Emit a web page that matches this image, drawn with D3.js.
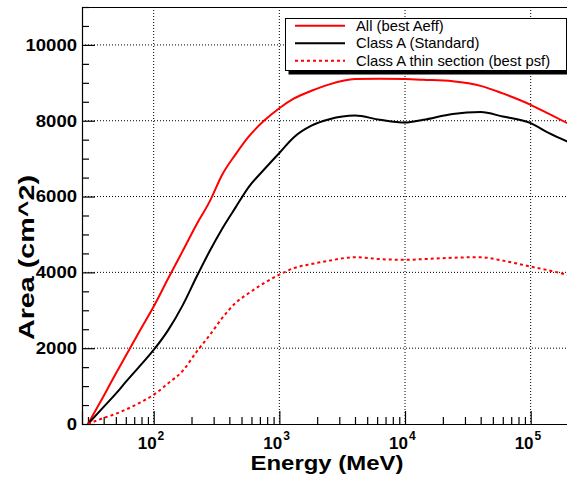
<!DOCTYPE html>
<html><head><meta charset="utf-8">
<script src="https://cdn.jsdelivr.net/npm/d3@7/dist/d3.min.js"></script>
<style>body{margin:0;background:#fff}svg{display:block;font-family:"Liberation Sans",Arial,sans-serif}</style>
</head><body><svg id="c" width="567" height="480"></svg>
<script>
const energies = [30,40,50,60,80,100,130,170,220,280,350,450,570,750,1000,1300,1800,2500,4000,6300,10000,14000,24000,40000,60000,100000,140000,200000];
const allBestAeff = [0,740,1330,1800,2540,3100,3830,4560,5270,5880,6570,7120,7580,7990,8330,8580,8790,8960,9100,9110,9100,9080,9040,8920,8720,8420,8180,7920];
const classAStandard = [0,450,800,1110,1580,1955,2470,3130,3890,4570,5145,5720,6250,6700,7150,7560,7870,8040,8137,8024,7950,8024,8180,8227,8111,7937,7673,7440];
const classAThin = [0,160,270,380,585,770,1070,1400,1910,2350,2790,3200,3450,3710,3940,4110,4220,4310,4400,4350,4330,4350,4385,4400,4310,4153,4050,3930];
const seriesNames = ["All (best Aeff)","Class A (Standard)","Class A thin section (best psf)"];
const seriesColors = ["#ff0000","#000000","#ff0000"];
const yTicks = [0,2000,4000,6000,8000,10000];
const xDecadeExponents = [2,3,4,5];
const xTitle = "Energy (MeV)";
const yTitle = "Area (cm^2)";

const svg = d3.select("#c");
const L = 82, R = 568.5, T = 7, B = 424;
const x = d3.scaleLog().domain([Math.pow(10,1.4296), 2e5]).range([L, R]);
const y = d3.scaleLinear().domain([0, 11000]).range([B, T]);

// grid
const g = svg.append("g");
g.selectAll(".vg").data(xDecadeExponents).join("line")
  .attr("x1", d => x(Math.pow(10,d))).attr("x2", d => x(Math.pow(10,d)))
  .attr("y1", T).attr("y2", B)
  .attr("stroke","#000").attr("stroke-width",1).attr("stroke-dasharray","1,2");
g.selectAll(".hg").data(yTicks.filter(d=>d>0)).join("line")
  .attr("x1", L).attr("x2", R).attr("y1", d => y(d)).attr("y2", d => y(d))
  .attr("stroke","#000").attr("stroke-width",1).attr("stroke-dasharray","1,2");

// minor tick values
const xMinor = [];
for (let e = 1; e <= 5; e++) for (let m = 2; m <= 9; m++) {
  const v = m * Math.pow(10, e);
  if (v >= x.domain()[0] && v <= x.domain()[1]) xMinor.push(v);
}
const yMinor = d3.range(0, 11001, 500).filter(v => v % 2000 !== 0);

// axes
const yAxis = svg.append("g").attr("transform",`translate(${L},0)`)
  .call(d3.axisLeft(y).tickValues(yTicks).tickSize(-13).tickPadding(5).tickFormat(d3.format("d")));
svg.append("g").attr("transform",`translate(${L},0)`)
  .call(d3.axisLeft(y).tickValues(yMinor).tickSize(-7).tickFormat(""))
  .call(a => a.select(".domain").remove());
yAxis.selectAll("text").attr("font-family",'"Liberation Sans",Arial,sans-serif')
  .attr("font-weight","bold").attr("font-size",17).attr("fill","#000")
  .attr("textLength", function(d){ return String(d).length*10.3; })
  .attr("lengthAdjust","spacingAndGlyphs");

svg.append("g").attr("transform",`translate(0,${B})`)
  .call(d3.axisBottom(x).tickValues(xDecadeExponents.map(e=>Math.pow(10,e))).tickSize(-13).tickFormat(""));
svg.append("g").attr("transform",`translate(0,${B})`)
  .call(d3.axisBottom(x).tickValues(xMinor).tickSize(-7).tickFormat(""))
  .call(a => a.select(".domain").remove());
svg.selectAll(".domain").attr("stroke","#000").attr("stroke-width",1.2);
svg.selectAll(".tick line").attr("stroke","#000").attr("stroke-width",1.2);

// top frame
svg.append("line").attr("x1",L).attr("x2",R).attr("y1",T+0.5).attr("y2",T+0.5).attr("stroke","#000").attr("stroke-width",1);

// x tick labels (10 with superscript exponent)
const xl = svg.append("g");
xDecadeExponents.forEach(e => {
  const px = x(Math.pow(10,e));
  const t = xl.append("text").attr("x",px-16).attr("y",448.5).attr("text-anchor","start")
    .attr("font-weight","bold").attr("font-size",17);
  t.append("tspan").text("10");
  t.append("tspan").attr("dx",1).attr("dy",-9).attr("font-size",12).text(String(e));
});

// titles
svg.append("text").attr("x",327).attr("y",470).attr("text-anchor","middle")
  .attr("font-weight","bold").attr("font-size",21)
  .attr("textLength",153).attr("lengthAdjust","spacingAndGlyphs").text(xTitle);
svg.append("text").attr("transform","translate(34,257.5) rotate(-90)").attr("text-anchor","middle")
  .attr("font-weight","bold").attr("font-size",22)
  .attr("textLength",165).attr("lengthAdjust","spacingAndGlyphs").text(yTitle);

// curves
svg.append("clipPath").attr("id","clip").append("rect").attr("x",L).attr("y",T).attr("width",R-L).attr("height",B-T);
const line = d3.line().x(d => x(d[0])).y(d => y(d[1])).curve(d3.curveMonotoneX);
const seriesData = [allBestAeff, classAStandard, classAThin];
const cg = svg.append("g").attr("clip-path","url(#clip)");
seriesData.forEach((vals, i) => {
  cg.append("path").datum(energies.map((e,k)=>[e, vals[k]]))
    .attr("d", line).attr("fill","none").attr("stroke", seriesColors[i])
    .attr("stroke-width", 2)
    .attr("stroke-dasharray", i === 2 ? "3,3" : null);
});

// legend
const lg = svg.append("g");
lg.append("rect").attr("x",288.5).attr("y",22.5).attr("width",281).attr("height",52).attr("fill","#000");
lg.append("rect").attr("x",285.5).attr("y",18.5).attr("width",281).attr("height",52).attr("fill","#fff").attr("stroke","#000").attr("stroke-width",1);
const rowsY = [25.7, 43.3, 60.7];
seriesNames.forEach((n,i) => {
  lg.append("line").attr("x1",295).attr("x2",345).attr("y1",rowsY[i]).attr("y2",rowsY[i])
    .attr("stroke",seriesColors[i]).attr("stroke-width",2).attr("stroke-dasharray", i===2 ? "3,3" : null);
  lg.append("text").attr("x",356).attr("y",rowsY[i]+5).attr("font-size",14.8).attr("fill","#000").text(n);
});
</script></body></html>
